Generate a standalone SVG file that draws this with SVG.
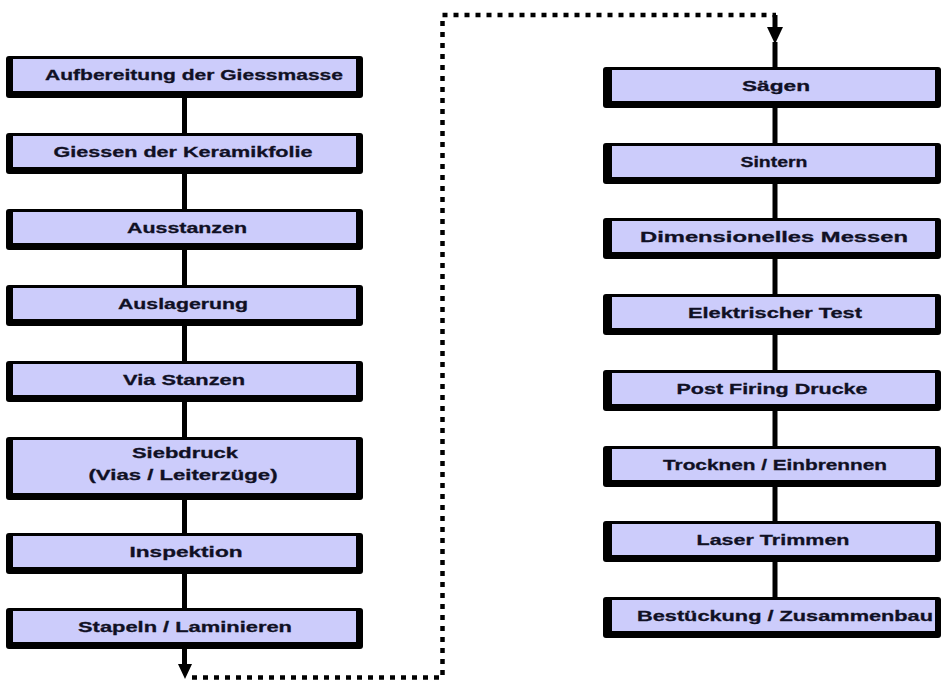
<svg xmlns="http://www.w3.org/2000/svg" width="941" height="680" viewBox="0 0 941 680">
<style>
.sh{fill:#000000}
.bx{fill:#ccccfb}
.t{font-family:"Liberation Sans",Arial,sans-serif;font-weight:bold;font-size:15px;fill:#101024;text-anchor:middle;stroke:#101024;stroke-width:0.3}
.c{stroke:#000;stroke-width:5;fill:none}
.d{stroke:#000;stroke-width:4.5;fill:none;stroke-dasharray:5 6}
.ah{fill:#000}
</style>
<rect width="941" height="680" fill="#ffffff"/>
<g id="connectors">
<line class="c" x1="184.5" y1="97" x2="184.5" y2="134"/>
<line class="c" x1="184.5" y1="173" x2="184.5" y2="210"/>
<line class="c" x1="184.5" y1="249" x2="184.5" y2="286"/>
<line class="c" x1="184.5" y1="325" x2="184.5" y2="362"/>
<line class="c" x1="184.5" y1="401" x2="184.5" y2="438"/>
<line class="c" x1="184.5" y1="499" x2="184.5" y2="534"/>
<line class="c" x1="184.5" y1="574" x2="184.5" y2="609"/>
<line class="c" x1="184.5" y1="648" x2="184.5" y2="666"/>
<polygon class="ah" points="178,664 192,664 185,679"/>
<path class="d" d="M192,677.5 H442.5 V15 H776"/>
<line class="c" x1="775" y1="15" x2="775" y2="28"/>
<polygon class="ah" points="767,27 783,27 775,44"/>
<line class="c" x1="775" y1="42" x2="775" y2="68"/>
<line class="c" x1="775" y1="107" x2="775" y2="144"/>
<line class="c" x1="775" y1="183" x2="775" y2="219"/>
<line class="c" x1="775" y1="258" x2="775" y2="295"/>
<line class="c" x1="775" y1="334" x2="775" y2="371"/>
<line class="c" x1="775" y1="410" x2="775" y2="447"/>
<line class="c" x1="775" y1="486" x2="775" y2="522"/>
<line class="c" x1="775" y1="561" x2="775" y2="598"/>
</g>
<g id="n1"><rect class="sh" x="6" y="56" width="357" height="42" rx="3"/><rect class="bx" x="13" y="59" width="343" height="32"/><text class="t" x="194" y="80" textLength="298" lengthAdjust="spacingAndGlyphs">Aufbereitung der Giessmasse</text></g>
<g id="n2"><rect class="sh" x="6" y="133" width="357" height="41" rx="3"/><rect class="bx" x="13" y="136" width="343" height="31"/><text class="t" x="183" y="157" textLength="259" lengthAdjust="spacingAndGlyphs">Giessen der Keramikfolie</text></g>
<g id="n3"><rect class="sh" x="6" y="209" width="357" height="41" rx="3"/><rect class="bx" x="13" y="212" width="343" height="31"/><text class="t" x="187" y="233" textLength="120" lengthAdjust="spacingAndGlyphs">Ausstanzen</text></g>
<g id="n4"><rect class="sh" x="6" y="285" width="357" height="41" rx="3"/><rect class="bx" x="13" y="288" width="343" height="31"/><text class="t" x="183" y="309" textLength="130" lengthAdjust="spacingAndGlyphs">Auslagerung</text></g>
<g id="n5"><rect class="sh" x="6" y="361" width="357" height="41" rx="3"/><rect class="bx" x="13" y="364" width="343" height="31"/><text class="t" x="184" y="385" textLength="122" lengthAdjust="spacingAndGlyphs">Via Stanzen</text></g>
<g id="n6"><rect class="sh" x="6" y="437" width="357" height="63" rx="3"/><rect class="bx" x="13" y="440" width="343" height="53"/><text class="t" x="185" y="458" textLength="106" lengthAdjust="spacingAndGlyphs">Siebdruck</text><text class="t" x="183" y="480" textLength="189" lengthAdjust="spacingAndGlyphs">(Vias / Leiterzüge)</text></g>
<g id="n7"><rect class="sh" x="6" y="533" width="357" height="41" rx="3"/><rect class="bx" x="13" y="536" width="343" height="31"/><text class="t" x="186" y="557" textLength="113" lengthAdjust="spacingAndGlyphs">Inspektion</text></g>
<g id="n8"><rect class="sh" x="6" y="608" width="357" height="41" rx="3"/><rect class="bx" x="13" y="611" width="343" height="31"/><text class="t" x="185" y="632" textLength="214" lengthAdjust="spacingAndGlyphs">Stapeln / Laminieren</text></g>
<g id="r1"><rect class="sh" x="603" y="67" width="338" height="41" rx="3"/><rect class="bx" x="612" y="70" width="323" height="31"/><text class="t" x="776" y="91" textLength="68" lengthAdjust="spacingAndGlyphs">Sägen</text></g>
<g id="r2"><rect class="sh" x="603" y="143" width="338" height="41" rx="3"/><rect class="bx" x="612" y="146" width="323" height="31"/><text class="t" x="774" y="167" textLength="67" lengthAdjust="spacingAndGlyphs">Sintern</text></g>
<g id="r3"><rect class="sh" x="603" y="218" width="338" height="41" rx="3"/><rect class="bx" x="612" y="221" width="323" height="31"/><text class="t" x="774" y="242" textLength="268" lengthAdjust="spacingAndGlyphs">Dimensionelles Messen</text></g>
<g id="r4"><rect class="sh" x="603" y="294" width="338" height="41" rx="3"/><rect class="bx" x="612" y="297" width="323" height="31"/><text class="t" x="775" y="318" textLength="174" lengthAdjust="spacingAndGlyphs">Elektrischer Test</text></g>
<g id="r5"><rect class="sh" x="603" y="370" width="338" height="41" rx="3"/><rect class="bx" x="612" y="373" width="323" height="31"/><text class="t" x="772" y="394" textLength="191" lengthAdjust="spacingAndGlyphs">Post Firing Drucke</text></g>
<g id="r6"><rect class="sh" x="603" y="446" width="338" height="41" rx="3"/><rect class="bx" x="612" y="449" width="323" height="31"/><text class="t" x="775" y="470" textLength="224" lengthAdjust="spacingAndGlyphs">Trocknen / Einbrennen</text></g>
<g id="r7"><rect class="sh" x="603" y="521" width="338" height="41" rx="3"/><rect class="bx" x="612" y="524" width="323" height="31"/><text class="t" x="773" y="545" textLength="153" lengthAdjust="spacingAndGlyphs">Laser Trimmen</text></g>
<g id="r8"><rect class="sh" x="603" y="597" width="338" height="41" rx="3"/><rect class="bx" x="612" y="600" width="323" height="31"/><text class="t" x="785" y="621" textLength="296" lengthAdjust="spacingAndGlyphs">Bestückung / Zusammenbau</text></g>
</svg>
